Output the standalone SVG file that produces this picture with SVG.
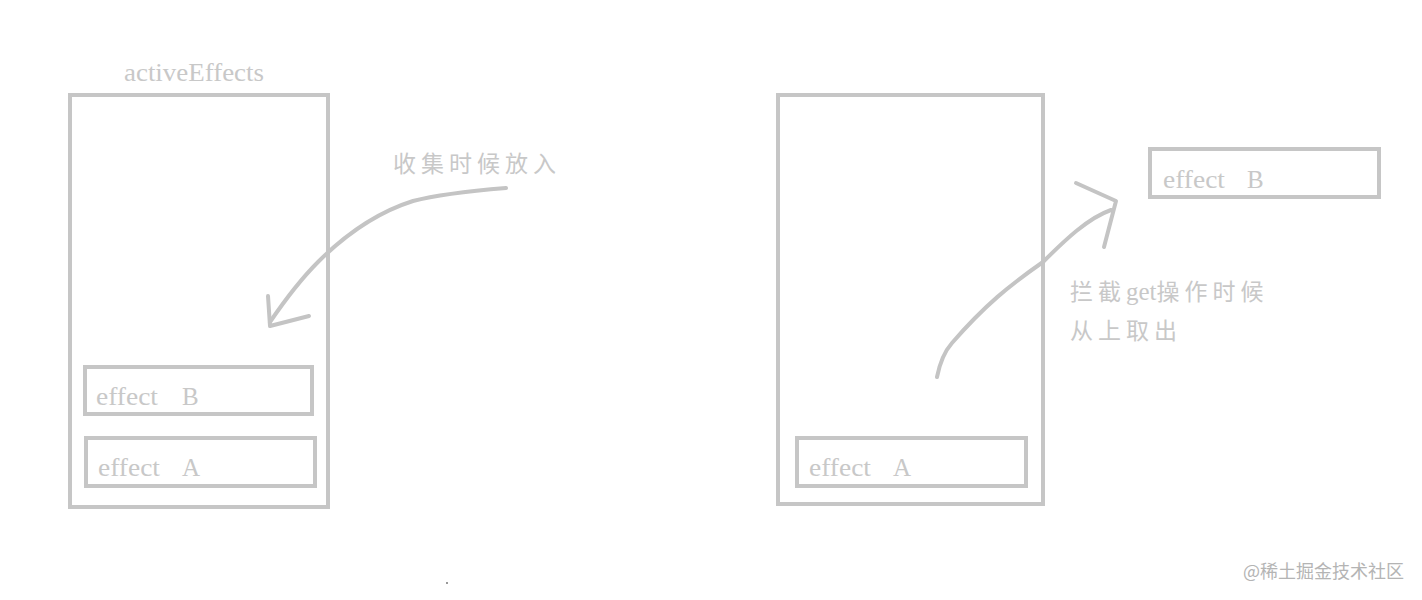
<svg xmlns="http://www.w3.org/2000/svg" width="1422" height="600" viewBox="0 0 1422 600">
<defs>
<style>
.box{fill:none;stroke:#c6c6c6;stroke-width:4}
.lbl{font-family:"Liberation Serif",serif;font-size:25px;fill:#c8c8c8}
.cn{font-family:"Liberation Serif","Noto Sans CJK SC",serif;font-size:23px;fill:#c8c8c8;letter-spacing:5px}
.lat{letter-spacing:0px;font-size:25px}
.stroke{fill:none;stroke:#c4c4c4;stroke-width:4;stroke-linecap:round;stroke-linejoin:round}
.wm{font-family:"Noto Sans CJK SC",sans-serif;font-size:18px;fill:#b4b4b4}
</style>
</defs>
<rect width="1422" height="600" fill="#ffffff"/>
<g id="left-stack">
<text class="lbl" x="124" y="81" textLength="140" lengthAdjust="spacingAndGlyphs">activeEffects</text>
<rect class="box" x="70" y="95" width="258" height="412"/>
</g>
<g id="left-effectB">
<rect class="box" x="85" y="367" width="227" height="47"/>
<text class="lbl" x="96" y="405" textLength="62" lengthAdjust="spacingAndGlyphs">effect</text>
<text class="lbl" x="182" y="405">B</text>
</g>
<g id="left-effectA">
<rect class="box" x="86" y="438" width="229" height="48"/>
<text class="lbl" x="98" y="476" textLength="62" lengthAdjust="spacingAndGlyphs">effect</text>
<text class="lbl" x="182" y="476">A</text>
</g>
<g id="right-stack">
<rect class="box" x="778" y="95" width="265" height="409"/>
</g>
<g id="right-effectA">
<rect class="box" x="797" y="438" width="229" height="48"/>
<text class="lbl" x="809" y="476" textLength="62" lengthAdjust="spacingAndGlyphs">effect</text>
<text class="lbl" x="893" y="476">A</text>
</g>
<g id="right-effectB">
<rect class="box" x="1150" y="149" width="229" height="48"/>
<text class="lbl" x="1163" y="188" textLength="62" lengthAdjust="spacingAndGlyphs">effect</text>
<text class="lbl" x="1247" y="188">B</text>
</g>
<g id="labels">
<text class="cn" x="393" y="172">收集时候放入</text>
<text class="cn" x="1070" y="300">拦截<tspan class="lat">get</tspan>操作时候</text>
<text class="cn" x="1070" y="339">从上取出</text>
</g>
<g id="connectors">
<path class="stroke" d="M506,188 C470,191 440,194 413,201 C375,213 345,235 318,262 C300,280 285,300 270,322"/>
<path class="stroke" d="M268,296 L270,326 L309,316"/>
<path class="stroke" d="M937,377 C940,362 944,352 952,343 C985,305 1010,285 1043,262 C1065,240 1088,218 1111,210"/>
<path class="stroke" d="M1076,183 L1116,201 L1104,247"/>
</g>
<text class="wm" x="1243" y="578">@稀土掘金技术社区</text>
<rect x="446" y="582" width="2" height="2" fill="#999"/>
</svg>
